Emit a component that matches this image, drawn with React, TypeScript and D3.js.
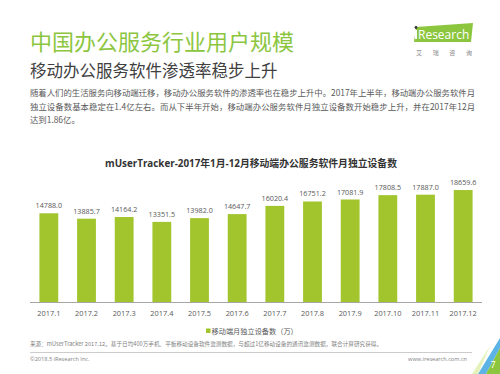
import React from "react";
import * as d3 from "d3";

const months = ["2017.1","2017.2","2017.3","2017.4","2017.5","2017.6","2017.7","2017.8","2017.9","2017.10","2017.11","2017.12"];
const devices = [14788.0,13885.7,14164.2,13351.5,13982.0,14647.7,16020.4,16751.2,17081.9,17808.5,17887.0,18659.6];
const legendLabel = "移动端月独立设备数（万）";
const title = "中国办公服务行业用户规模";
const subtitle = "移动办公服务软件渗透率稳步上升";
const paragraph = [
  "随着人们的生活服务向移动端迁移，移动办公服务软件的渗透率也在稳步上升中。2017年上半年，移动端办公服务软件月",
  "独立设备数基本稳定在1.4亿左右。而从下半年开始，移动端办公服务软件月独立设备数开始稳步上升，并在2017年12月",
  "达到1.86亿。",
];
const chartTitle = "mUserTracker-2017年1月-12月移动端办公服务软件月独立设备数";
const source = "来源：mUserTracker 2017.12。基于日均400万手机、平板移动设备软件监测数据，与超过1亿移动设备的通讯监测数据，联合计算研究获得。";

const FONT = "'Open Sans','Noto Sans CJK SC',sans-serif";
const CJK = "'Noto Sans CJK SC','Open Sans',sans-serif";
const BAR = "#a2c52e";
const GREEN = "#8cc63f";

export default function App() {
  const x = d3.scaleBand<string>().domain(months).range([30, 482]).paddingInner(0.5).paddingOuter(0.25);
  const y = d3.scaleLinear().domain([0, 20000]).range([302, 182]);
  const fmt = d3.format(".1f");
  return (
    <svg width={500} height={374} style={{ position: "absolute", left: 0, top: 0, background: "#fff" }}>
      <rect width={500} height={374} fill="#fff" />
      {/* Titles */}
      <text x={30} y={50} fontFamily={CJK} fontSize={22} fill={GREEN}>{title}</text>
      <text x={30} y={77} fontFamily={CJK} fontSize={16.5} fill="#404040">{subtitle}</text>
      {paragraph.map((t, i) => (
        <text key={i} x={30} y={96 + i * 13.5} fontFamily={CJK} fontSize={8.4} fill="#595959"
          {...(i < 2 ? { textLength: 445, lengthAdjust: "spacing" } : {})}>{t}</text>
      ))}
      {/* Logo */}
      <polygon points="416,27 473,23 471,42 414,42" fill={GREEN} />
      <text x={418} y={39} fontFamily="'Open Sans',sans-serif" fontSize={12} fill="#fff">Research</text>
      <rect x={415} y={30} width={2} height={9} fill="#fff" />
      <circle cx={416} cy={27.5} r={1.4} fill="#333" />
      <text x={416} y={55} fontFamily={CJK} fontSize={6} fill="#888" textLength={56} lengthAdjust="spacing">艾瑞咨询</text>
      {/* Chart title */}
      <text x={251} y={167} textAnchor="middle" fontFamily={FONT} fontSize={9.8} fontWeight="bold" fill="#333"
        textLength={292} lengthAdjust="spacingAndGlyphs">{chartTitle}</text>
      {/* Bars */}
      {devices.map((v, i) => (
        <g key={months[i]}>
          <rect x={x(months[i])} y={y(v)} width={x.bandwidth()} height={y(0) - y(v)} fill={BAR} />
          <text x={(x(months[i]) as number) + x.bandwidth() / 2} y={y(v) - 5} textAnchor="middle"
            fontFamily={FONT} fontSize={7.2} fill="#595959">{fmt(v)}</text>
          <text x={(x(months[i]) as number) + x.bandwidth() / 2} y={316} textAnchor="middle"
            fontFamily={FONT} fontSize={7.4} fill="#595959">{months[i]}</text>
        </g>
      ))}
      <line x1={30} x2={482} y1={302.5} y2={302.5} stroke="#a6a6a6" strokeWidth={1} />
      {/* Legend */}
      <rect x={206} y={328.5} width={4.5} height={4.5} fill={BAR} />
      <text x={211.5} y={333.5} fontFamily={CJK} fontSize={7.2} fill="#595959">{legendLabel}</text>
      {/* Footer */}
      <text x={30} y={346} fontFamily={CJK} fontSize={5.6} fill="#7f7f7f" textLength={352} lengthAdjust="spacing">{source}</text>
      <line x1={30} x2={472} y1={352.5} y2={352.5} stroke="#bfbfbf" strokeWidth={0.8} />
      <text x={30} y={361} fontFamily={FONT} fontSize={5.6} fill="#7f7f7f">©2018.5 iResearch Inc.</text>
      <text x={467} y={361} textAnchor="end" fontFamily={FONT} fontSize={5.6} fill="#7f7f7f">www.iresearch.com.cn</text>
      {/* Corner decoration */}
      <polygon points="478,374 500,338 500,348 486,374" fill="#5bb4e5" />
      <polygon points="486,374 500,348 500,374" fill="#8cc63f" />
      <polygon points="472,374 490,346 478,374" fill="#d8ec9c" opacity={0.7} />
      <text x={493} y={368} textAnchor="middle" fontFamily={FONT} fontSize={9} fill="#fff">7</text>
    </svg>
  );
}
